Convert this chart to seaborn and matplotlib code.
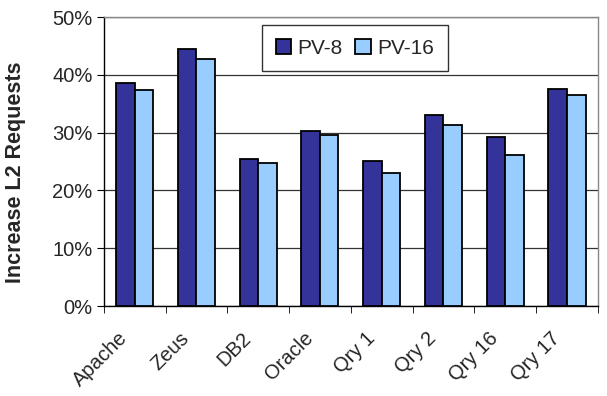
import matplotlib
matplotlib.use("Agg")
import matplotlib.pyplot as plt
import matplotlib.transforms as mtrans
import seaborn as sns
import pandas as pd
from matplotlib.ticker import FuncFormatter, FixedLocator

workloads = ["Apache", "Zeus", "DB2", "Oracle", "Qry 1", "Qry 2", "Qry 16", "Qry 17"]
pv8 = [38.6, 44.5, 25.5, 30.3, 25.1, 33.1, 29.3, 37.6]
pv16 = [37.3, 42.8, 24.8, 29.6, 23.0, 31.4, 26.2, 36.6]

df = pd.DataFrame({
    "workload": workloads * 2,
    "value": pv8 + pv16,
    "config": ["PV-8"] * len(workloads) + ["PV-16"] * len(workloads),
})

sns.set_style("white")
plt.rcParams["font.family"] = ["Liberation Sans", "DejaVu Sans"]

fig, ax = plt.subplots(figsize=(6.07, 3.96), dpi=100)
fig.subplots_adjust(left=0.171, right=0.985, top=0.957, bottom=0.227)

sns.barplot(data=df, x="workload", y="value", hue="config",
            palette=["#333399", "#99ccff"], saturation=1, width=0.6, gap=0,
            edgecolor="black", linewidth=1.3, ax=ax, zorder=3)

ax.set_ylim(0, 50)
ax.set_xlim(-0.5, len(workloads) - 0.5)
ax.set_yticks(range(0, 51, 10))
ax.yaxis.set_major_formatter(FuncFormatter(lambda v, p: f"{v:.0f}%"))
ax.grid(axis="y", color="#333333", linewidth=0.9, zorder=0)
ax.set_axisbelow(True)

ax.set_xticks(range(len(workloads)))
ax.set_xticklabels(workloads, rotation=45, ha="right", va="center",
                   rotation_mode="anchor", fontsize=14.5)
ax.tick_params(axis="x", length=0, pad=21)
shift = mtrans.ScaledTranslation(-10 / 100, 0, fig.dpi_scale_trans)
for lab in ax.get_xticklabels():
    lab.set_transform(lab.get_transform() + shift)
ax.xaxis.set_minor_locator(FixedLocator([i + 0.5 for i in range(-1, len(workloads))]))
ax.tick_params(axis="x", which="minor", length=5, direction="out", color="black", bottom=True)
ax.tick_params(axis="y", labelsize=14.5, length=5, pad=3, direction="out", left=True, color="black")

ax.set_xlabel("")
ax.set_ylabel("Increase L2 Requests", fontsize=15.5, fontweight="bold")
ax.yaxis.set_label_coords(-0.158, 0.464)

for side in ["left", "bottom"]:
    ax.spines[side].set_color("black")
    ax.spines[side].set_linewidth(1.0)
for side in ["top", "right"]:
    ax.spines[side].set_color("#888888")
    ax.spines[side].set_linewidth(1.0)

leg = ax.legend(loc="upper center", bbox_to_anchor=(0.508, 0.972), ncol=2, fontsize=15,
                frameon=True, fancybox=False, edgecolor="black", handlelength=0.75,
                handleheight=0.75, handletextpad=0.3, columnspacing=0.6,
                borderpad=0.65, borderaxespad=0, title=None)
leg.get_frame().set_linewidth(1.0)

fig.savefig("out.png", dpi=100)
